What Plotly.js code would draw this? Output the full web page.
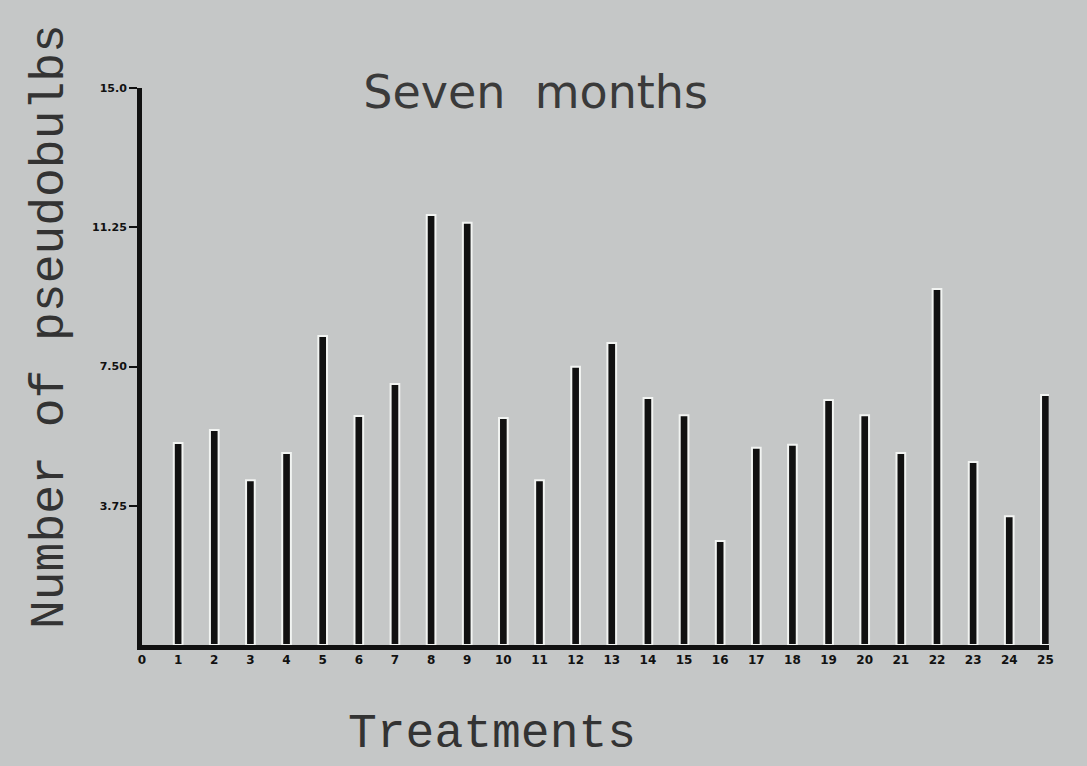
<!DOCTYPE html>
<html>
<head>
<meta charset="utf-8">
<script src="https://cdn.plot.ly/plotly-3.0.1.min.js"></script>
<style>
html,body{margin:0;padding:0;background:#c5c7c7;}
#chart{width:1087px;height:766px;}
</style>
</head>
<body>
<div id="chart"></div>
<script>
// Treatments (x categories) and number of pseudobulbs after seven months
const treatments = [1,2,3,4,5,6,7,8,9,10,11,12,13,14,15,16,17,18,19,20,21,22,23,24,25];
const pseudobulbs = [5.44,5.79,4.44,5.17,8.32,6.17,7.03,11.58,11.37,6.11,4.44,7.49,8.13,6.65,6.19,2.80,5.31,5.39,6.60,6.19,5.17,9.59,4.93,3.47,6.73];
const xTickVals = [0,1,2,3,4,5,6,7,8,9,10,11,12,13,14,15,16,17,18,19,20,21,22,23,24,25];
const xTickText = ["0","1","2","3","4","5","6","7","8","9","10","11","12","13","14","15","16","17","18","19","20","21","22","23","24","25"];
const yTickVals = [3.75,7.5,11.25,15];
const yTickText = ["3.75","7.50","11.25","15.0"];

const trace = {
  type: 'bar',
  x: treatments,
  y: pseudobulbs,
  width: 0.24,
  marker: {color: '#111111', line: {color: '#f2f4f2', width: 2}},
  hoverinfo: 'x+y'
};

const layout = {
  width: 1087,
  height: 766,
  paper_bgcolor: '#c5c7c7',
  plot_bgcolor: '#c5c7c7',
  margin: {l: 142, r: 38, t: 88, b: 121},
  showlegend: false,
  title: {
    text: 'Seven\u00A0 months',
    font: {family: 'DejaVu Sans', size: 46, color: '#3a3a3a'},
    x: 0.434, xref: 'paper', xanchor: 'center',
    y: 0.88, yref: 'container', yanchor: 'middle'
  },
  xaxis: {
    range: [0, 25.1],
    tickvals: xTickVals,
    ticktext: xTickText,
    ticks: '',
    showgrid: false,
    zeroline: false,
    showline: true,
    linecolor: '#111111',
    linewidth: 5,
    tickfont: {family: 'DejaVu Sans', size: 12, color: '#111111', weight: 'bold'},
    fixedrange: true
  },
  yaxis: {
    range: [0, 15],
    tickvals: yTickVals,
    ticktext: yTickText,
    ticks: 'outside',
    ticklen: 8,
    tickwidth: 2,
    tickcolor: '#111111',
    showgrid: false,
    zeroline: false,
    showline: true,
    linecolor: '#111111',
    linewidth: 5,
    tickfont: {family: 'DejaVu Sans', size: 11, color: '#111111', weight: 'bold'},
    fixedrange: true
  },
  annotations: [
    {
      text: 'Treatments',
      xref: 'paper', yref: 'paper',
      x: (492 - 142) / 907, y: -(734 - 645) / 557,
      xanchor: 'center', yanchor: 'middle',
      showarrow: false,
      font: {family: 'Liberation Mono', size: 48, color: '#333333'}
    },
    {
      text: 'Number of pseudobulbs',
      xref: 'paper', yref: 'paper',
      x: -(142 - 50) / 907, y: (645 - 327) / 557,
      xanchor: 'center', yanchor: 'middle',
      textangle: -90,
      showarrow: false,
      font: {family: 'Liberation Mono', size: 48, color: '#333333'}
    }
  ]
};

Plotly.newPlot('chart', [trace], layout, {displayModeBar: false, staticPlot: true});
</script>
</body>
</html>
